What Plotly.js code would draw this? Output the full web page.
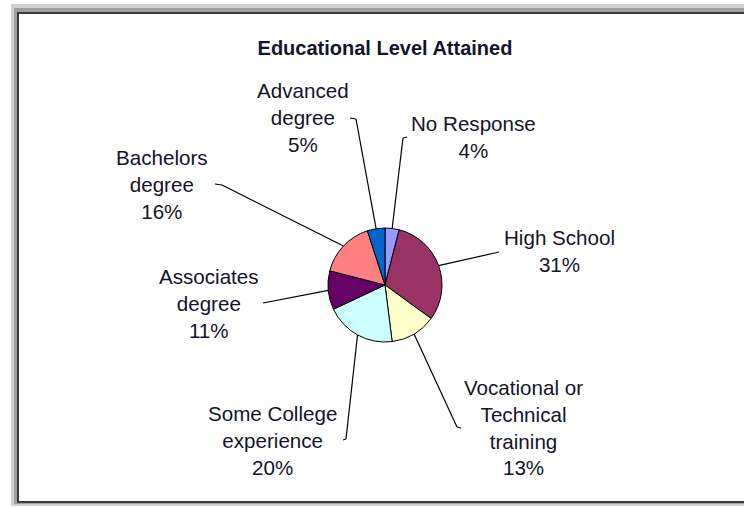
<!DOCTYPE html>
<html>
<head>
<meta charset="utf-8">
<script src="https://cdn.plot.ly/plotly-3.0.1.min.js"></script>
<style>html,body{margin:0;padding:0;background:#fff;}#chart{width:744px;height:508px;}</style>
</head>
<body>
<div id="chart"></div>
<script>
// ---- data ----
const categories = ["No Response", "High School", "Vocational or Technical training", "Some College experience", "Associates degree", "Bachelors degree", "Advanced degree"];
const values = [4, 31, 13, 20, 11, 16, 5];
const labelText = ["No Response", "High School", "Vocational or<br>Technical<br>training", "Some College<br>experience", "Associates<br>degree", "Bachelors<br>degree", "Advanced<br>degree"];
const colors = ["#9999FF", "#993366", "#FFFFCC", "#CCFFFF", "#660066", "#FF8080", "#0066CC"];
const chartTitle = "Educational Level Attained";

// ---- layout helpers (pixels -> paper) ----
const W = 744, H = 508;
const px = x => x / W;
const py = y => 1 - y / H;
const cx = 385, cy = 285, R = 57;

// label block centres and leader line anchor points (pixels)
const labelPos = [
  [473, 137], [559, 251], [523, 427], [272, 440], [209, 303], [162, 184], [303, 117]
];
const leaderPts = [
  [[403, 138], [407, 137]],
  [[499, 252]],
  [[457, 427], [461, 428]],
  [[346, 439], [343, 440]],
  [[263, 303]],
  [[222, 185], [215, 184]],
  [[356, 119], [350, 118]]
];

const total = values.reduce((a, b) => a + b, 0);
let cum = 0;
const shapes = [
  {type: 'rect', xref: 'paper', yref: 'paper', x0: px(11), x1: px(760), y0: py(4), y1: py(506), fillcolor: '#d0d0d0', line: {width: 0}, layer: 'below'},
  {type: 'rect', xref: 'paper', yref: 'paper', x0: px(14), x1: px(760), y0: py(8), y1: py(504), fillcolor: '#a0a0a0', line: {width: 0}, layer: 'below'},
  {type: 'rect', xref: 'paper', yref: 'paper', x0: px(17), x1: px(760), y0: py(12), y1: py(503), fillcolor: '#3a3a3a', line: {width: 0}, layer: 'below'},
  {type: 'rect', xref: 'paper', yref: 'paper', x0: px(19), x1: px(760), y0: py(14), y1: py(501), fillcolor: '#ffffff', line: {width: 0}, layer: 'below'}
];
const annotations = [];
values.forEach((v, i) => {
  const theta = 2 * Math.PI * (cum + v / 2) / total;
  cum += v;
  let pts = [[cx + R * Math.sin(theta), cy - R * Math.cos(theta)]].concat(leaderPts[i]);
  for (let k = 0; k < pts.length - 1; k++) {
    shapes.push({type: 'line', xref: 'paper', yref: 'paper',
      x0: px(pts[k][0]), y0: py(pts[k][1]), x1: px(pts[k + 1][0]), y1: py(pts[k + 1][1]),
      line: {color: '#000', width: 1.2}, layer: 'above'});
  }
  annotations.push({
    xref: 'paper', yref: 'paper', x: px(labelPos[i][0]), y: py(labelPos[i][1]),
    xanchor: 'center', yanchor: 'middle', showarrow: false,
    text: labelText[i] + '<br>' + Math.round(v / total * 100) + '%',
    font: {family: 'Liberation Sans, Arial, sans-serif', size: 20.6, color: '#14142a'}
  });
});

const trace = {
  type: 'pie',
  labels: categories,
  values: values,
  marker: {colors: colors, line: {color: '#000', width: 1}},
  sort: false,
  direction: 'clockwise',
  rotation: 0,
  textinfo: 'none',
  hoverinfo: 'label+percent',
  showlegend: false,
  domain: {x: [px(cx - R), px(cx + R)], y: [py(cy + R), py(cy - R)]}
};

const layout = {
  width: W, height: H,
  margin: {l: 0, r: 0, t: 0, b: 0},
  paper_bgcolor: '#ffffff',
  showlegend: false,
  title: {text: '<b>' + chartTitle + '</b>', x: px(385), y: py(48), xanchor: 'center', yanchor: 'middle',
    xref: 'paper', yref: 'container',
    font: {family: 'Liberation Sans, Arial, sans-serif', size: 20, color: '#14142a'}},
  shapes: shapes,
  annotations: annotations
};

Plotly.newPlot('chart', [trace], layout, {displayModeBar: false, staticPlot: true});
</script>
</body>
</html>
